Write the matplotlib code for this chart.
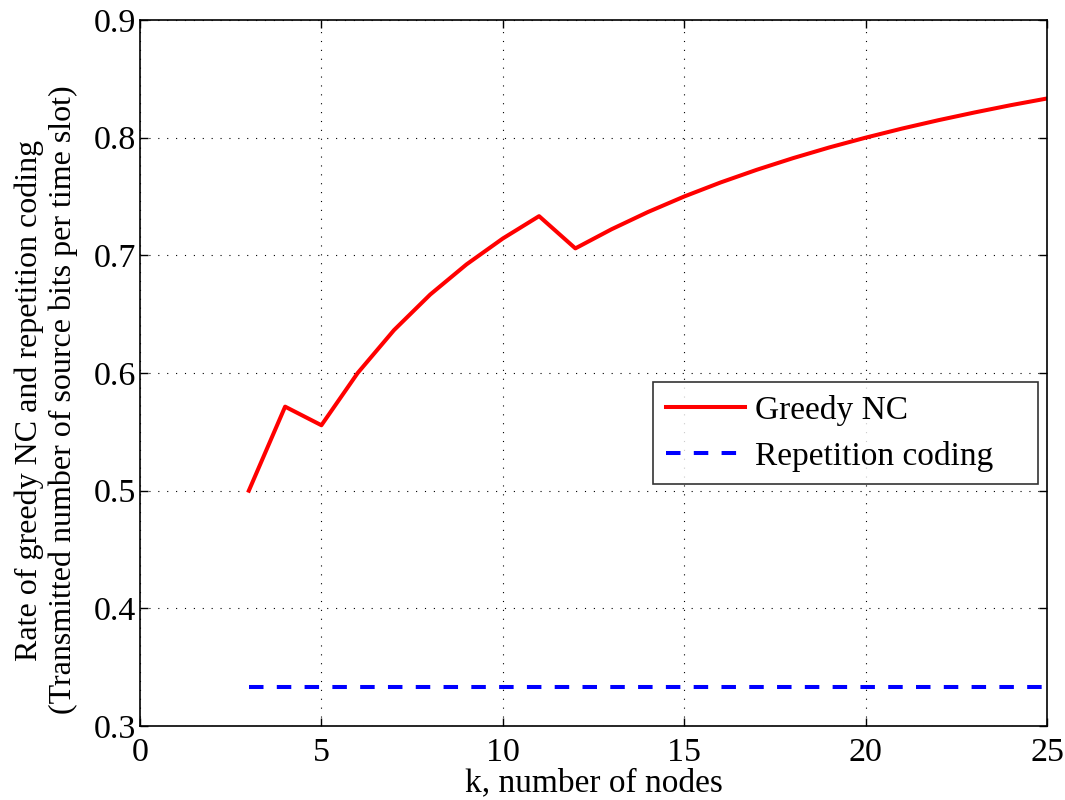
import matplotlib
matplotlib.use("Agg")
import matplotlib.pyplot as plt

k_nodes = [3, 4, 5, 6, 7, 8, 9, 10, 11, 12, 13, 14, 15, 16, 17, 18, 19, 20, 21, 22, 23, 24, 25]
greedy_nc = [0.5, 0.5714, 0.5556, 0.6, 0.6364, 0.6667, 0.6923, 0.7143, 0.7333, 0.7059,
             0.7222, 0.7368, 0.75, 0.7619, 0.7727, 0.7826, 0.7917, 0.8, 0.8077, 0.8148,
             0.8214, 0.8276, 0.8333]
repetition = [0.3333] * len(k_nodes)
x_ticks = [0, 5, 10, 15, 20, 25]
y_ticks = [0.3, 0.4, 0.5, 0.6, 0.7, 0.8, 0.9]

plt.rcParams['font.family'] = ['Liberation Serif', 'DejaVu Serif']

fig = plt.figure(figsize=(10.65, 8.0), dpi=100)
W, H = 907, 706
ax = fig.add_axes([140/1065, 1-726/800, W/1065, H/800])

ax.plot(k_nodes, greedy_nc, color='#ff0000', lw=2.9, label='Greedy NC')
ax.plot(k_nodes, repetition, color='#0000ff', lw=2.9, ls=(0, (3.6, 3.3)), label='Repetition coding')

ax.set_xlim(0, 25)
ax.set_ylim(0.3, 0.9)
ax.set_xticks(x_ticks)
ax.set_yticks(y_ticks)
ax.set_xticklabels([str(v) for v in x_ticks])
ax.set_yticklabels(['%.1f' % v for v in y_ticks])
ax.tick_params(direction='in', length=6, width=1, labelsize=24.5, top=True, right=True)
ax.tick_params(axis='x', pad=8)
ax.tick_params(axis='y', pad=3)
for s in ax.spines.values():
    s.set_linewidth(1.2)
ax.grid(True, color='black', ls=(0, (1, 7)), lw=0.8)

ax.set_xlabel('k, number of nodes', fontsize=24, labelpad=0)
ax.set_ylabel('Rate of greedy NC and repetition coding\n(Transmitted number of source bits per time slot)',
              fontsize=23, linespacing=1.2)
ax.yaxis.set_label_coords((78-140)/W, 1-(400-20)/H)

leg = ax.legend(loc='upper left',
                bbox_to_anchor=((653-140)/W, 1-(481-20)/H, (1038-653)/W, (481-382)/H),
                mode='expand', fontsize=24, frameon=True, fancybox=False, edgecolor='black',
                handlelength=2.37, handletextpad=0.3, borderaxespad=0, labelspacing=0.45,
                borderpad=0.38)
leg.get_frame().set_linewidth(1.2)

fig.savefig('out.png', dpi=100)
